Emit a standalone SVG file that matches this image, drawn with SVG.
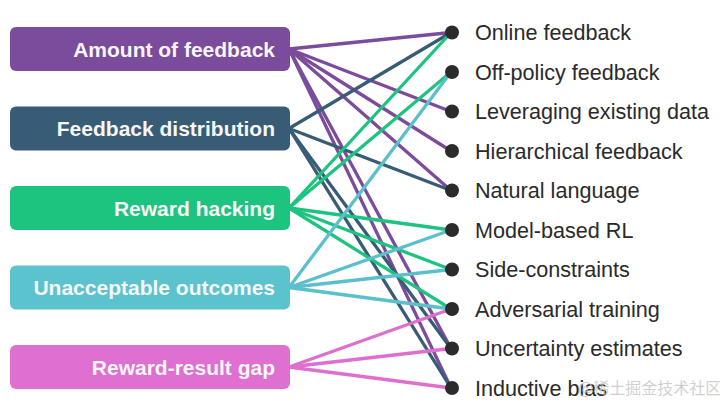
<svg xmlns="http://www.w3.org/2000/svg" width="720" height="410" viewBox="0 0 720 410">
<style>
.box{stroke:none}
.bt{font-family:"Liberation Sans",Arial,sans-serif;font-weight:bold;font-size:21px;fill:#f7f7f7;text-anchor:end}
.rt{font-family:"Liberation Sans",Arial,sans-serif;font-size:21.6px;fill:#2a2a2a}
.dot{fill:#2b2b2b}
.c line{stroke-width:3.3;stroke-linecap:round}
.p{stroke:#7b4b9c}
.s{stroke:#385c75}
.g{stroke:#1cc47f}
.y{stroke:#5bbfcc}
.m{stroke:#de6fcf}
.wm{font-family:"Noto Sans CJK SC","Noto Sans",sans-serif;font-size:16px;fill:#c8c8c8;fill-opacity:0.85}
</style>
<rect width="720" height="410" fill="#ffffff"/>
<g id="connectors" class="c">
<line class="p" x1="289" y1="49" x2="451" y2="32.5"/>
<line class="p" x1="289" y1="49" x2="451" y2="111.5"/>
<line class="p" x1="289" y1="49" x2="451" y2="151"/>
<line class="p" x1="289" y1="49" x2="451" y2="190.5"/>
<line class="p" x1="289" y1="49" x2="451" y2="348.5"/>
<line class="p" x1="289" y1="49" x2="451" y2="388"/>
<line class="s" x1="289" y1="128.5" x2="451" y2="32.5"/>
<line class="s" x1="289" y1="128.5" x2="451" y2="190.5"/>
<line class="s" x1="289" y1="128.5" x2="451" y2="348.5"/>
<line class="s" x1="289" y1="128.5" x2="451" y2="388"/>
<line class="g" x1="289" y1="208" x2="451" y2="32.5"/>
<line class="g" x1="289" y1="208" x2="451" y2="72"/>
<line class="g" x1="289" y1="208" x2="451" y2="230"/>
<line class="g" x1="289" y1="208" x2="451" y2="269.5"/>
<line class="g" x1="289" y1="208" x2="451" y2="309"/>
<line class="y" x1="289" y1="287.5" x2="451" y2="72"/>
<line class="y" x1="289" y1="287.5" x2="451" y2="230"/>
<line class="y" x1="289" y1="287.5" x2="451" y2="269.5"/>
<line class="y" x1="289" y1="287.5" x2="451" y2="309"/>
<line class="m" x1="289" y1="367" x2="451" y2="309"/>
<line class="m" x1="289" y1="367" x2="451" y2="348.5"/>
<line class="m" x1="289" y1="367" x2="451" y2="388"/>
</g>
<g id="amount-of-feedback"><rect class="box" x="10" y="27" width="280" height="44" rx="6" fill="#7b4b9c"/><text class="bt" x="275" y="56.5">Amount of feedback</text></g>
<g id="feedback-distribution"><rect class="box" x="10" y="106.5" width="280" height="44" rx="6" fill="#385c75"/><text class="bt" x="275" y="136">Feedback distribution</text></g>
<g id="reward-hacking"><rect class="box" x="10" y="186" width="280" height="44" rx="6" fill="#1cc47f"/><text class="bt" x="275" y="215.5">Reward hacking</text></g>
<g id="unacceptable-outcomes"><rect class="box" x="10" y="265.5" width="280" height="44" rx="6" fill="#5bc3ce"/><text class="bt" x="275" y="295">Unacceptable outcomes</text></g>
<g id="reward-result-gap"><rect class="box" x="10" y="345" width="280" height="44" rx="6" fill="#df6fd0"/><text class="bt" x="275" y="374.5">Reward-result gap</text></g>
<g id="online-feedback"><circle class="dot" cx="452" cy="32.5" r="7"/><text class="rt" x="475" y="40">Online feedback</text></g>
<g id="off-policy-feedback"><circle class="dot" cx="452" cy="72" r="7"/><text class="rt" x="475" y="79.5">Off-policy feedback</text></g>
<g id="leveraging-existing-data"><circle class="dot" cx="452" cy="111.5" r="7"/><text class="rt" x="475" y="119">Leveraging existing data</text></g>
<g id="hierarchical-feedback"><circle class="dot" cx="452" cy="151" r="7"/><text class="rt" x="475" y="158.5">Hierarchical feedback</text></g>
<g id="natural-language"><circle class="dot" cx="452" cy="190.5" r="7"/><text class="rt" x="475" y="198">Natural language</text></g>
<g id="model-based-rl"><circle class="dot" cx="452" cy="230" r="7"/><text class="rt" x="475" y="237.5">Model-based RL</text></g>
<g id="side-constraints"><circle class="dot" cx="452" cy="269.5" r="7"/><text class="rt" x="475" y="277">Side-constraints</text></g>
<g id="adversarial-training"><circle class="dot" cx="452" cy="309" r="7"/><text class="rt" x="475" y="316.5">Adversarial training</text></g>
<g id="uncertainty-estimates"><circle class="dot" cx="452" cy="348.5" r="7"/><text class="rt" x="475" y="356">Uncertainty estimates</text></g>
<g id="inductive-bias"><circle class="dot" cx="452" cy="388" r="7"/><text class="rt" x="475" y="395.5">Inductive bias</text></g>
<text class="wm" x="578" y="394">@稀土掘金技术社区</text>
</svg>
